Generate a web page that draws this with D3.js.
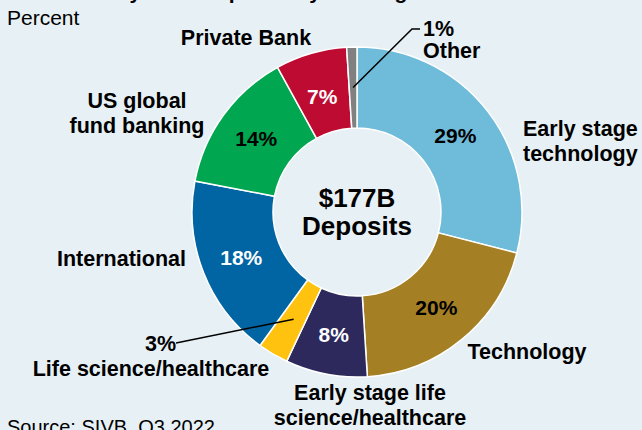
<!DOCTYPE html>
<html>
<head>
<meta charset="utf-8">
<script src="https://cdn.jsdelivr.net/npm/d3@7"></script>
<style>
  html, body { margin: 0; padding: 0; background: #e7f0f4; }
  svg { display: block; font-family: "Liberation Sans", Arial, sans-serif; }
</style>
</head>
<body>
<div id="chart"></div>
<script>
// deposit mix, Q3 2022
const segments = ['Early stage technology', 'Technology', 'Early stage life science/healthcare',
  'Life science/healthcare', 'International', 'US global fund banking', 'Private Bank', 'Other'];
const shares = [29, 20, 8, 3, 18, 14, 7, 1];
const sliceColors = ['#6ebbda', '#a57f23', '#2d295c', '#ffc20e', '#0065a2', '#00a650', '#be0b31', '#808080'];
const pctColors = ['#000', '#000', '#fff', '#000', '#fff', '#000', '#fff', '#000'];
const nameLines = [['Early stage', 'technology'], ['Technology'], ['Early stage life', 'science/healthcare'],
  ['Life science/healthcare'], ['International'], ['US global', 'fund banking'], ['Private Bank'], ['Other']];
const centerLines = ['$177B', 'Deposits'];

const width = 642, height = 430;
const cx = 357, cy = 212;
const outerR = 165, innerR = 84;

const svg = d3.select('#chart').append('svg')
  .attr('width', width).attr('height', height);

svg.append('rect').attr('width', width).attr('height', height).attr('fill', '#e7f0f4');

// title is cut off at the top edge
svg.append('text')
  .attr('x', 7).attr('y', -1)
  .attr('font-size', 21).attr('font-weight', 'bold')
  .text('Silicon Valley Bank deposits by banking');

svg.append('text')
  .attr('x', 7).attr('y', 25)
  .attr('font-size', 21)
  .text('Percent');

svg.append('text')
  .attr('x', 7).attr('y', 434)
  .attr('font-size', 20)
  .text('Source: SIVB, Q3 2022');

const data = segments.map((name, i) => ({ name, value: shares[i], i }));

const pie = d3.pie().sort(null).value(d => d.value);
const arcs = pie(data);

const arc = d3.arc().innerRadius(innerR).outerRadius(outerR);
const midArc = d3.arc().innerRadius(124.5).outerRadius(124.5);

const g = svg.append('g').attr('transform', `translate(${cx},${cy})`);

g.selectAll('path.slice')
  .data(arcs)
  .join('path')
  .attr('class', 'slice')
  .attr('d', arc)
  .attr('fill', d => sliceColors[d.data.i])
  .attr('stroke', '#fff')
  .attr('stroke-width', 1.5);

// percentages inside the ring (the tiny slices get outside labels)
const inside = arcs.filter(d => d.data.value >= 5);
g.selectAll('text.pct')
  .data(inside)
  .join('text')
  .attr('class', 'pct')
  .attr('transform', d => `translate(${midArc.centroid(d)})`)
  .attr('text-anchor', 'middle')
  .attr('dy', d => d.data.value === 7 ? '0.55em' : '0.36em')
  .attr('font-size', 21)
  .attr('font-weight', 'bold')
  .attr('fill', d => pctColors[d.data.i])
  .text(d => d.data.value + '%');

// centre text
svg.append('text')
  .attr('x', cx).attr('y', 207)
  .attr('text-anchor', 'middle').attr('font-size', 26).attr('font-weight', 'bold')
  .text(centerLines[0]);
svg.append('text')
  .attr('x', cx).attr('y', 235)
  .attr('text-anchor', 'middle').attr('font-size', 26).attr('font-weight', 'bold')
  .text(centerLines[1]);

// outer label placement (layout only)
const labelPos = [
  { x: 523, y: 136, anchor: 'start' },
  { x: 527, y: 359, anchor: 'middle' },
  { x: 370, y: 400, anchor: 'middle' },
  { x: 151, y: 376, anchor: 'middle' },
  { x: 186, y: 266, anchor: 'end' },
  { x: 137, y: 108, anchor: 'middle' },
  { x: 246, y: 45, anchor: 'middle' },
  { x: 423, y: 58, anchor: 'start' },
];

labelPos.forEach((p, i) => {
  const t = svg.append('text')
    .attr('x', p.x).attr('y', p.y)
    .attr('text-anchor', p.anchor)
    .attr('font-size', 21.5).attr('font-weight', 'bold');
  nameLines[i].forEach((line, k) => {
    t.append('tspan').attr('x', p.x).attr('dy', k === 0 ? 0 : 25).text(line);
  });
});

// small slices: leader lines + outside percent
const small = [
  { i: 7, textX: 423, textY: 36, anchor: 'start', elbow: [[420, 29], [412, 29]] },
  { i: 3, textX: 176, textY: 351, anchor: 'end', elbow: [[176, 343]] },
];

small.forEach(s => {
  const [mx, my] = midArc.centroid(arcs[s.i]);
  const pts = [[cx + mx, cy + my], ...s.elbow.slice().reverse()];
  svg.append('path')
    .attr('d', d3.line()(pts))
    .attr('fill', 'none')
    .attr('stroke', '#000')
    .attr('stroke-width', 1.5);
  svg.append('text')
    .attr('x', s.textX).attr('y', s.textY)
    .attr('text-anchor', s.anchor)
    .attr('font-size', 21.5).attr('font-weight', 'bold')
    .text(shares[s.i] + '%');
});
</script>
</body>
</html>
